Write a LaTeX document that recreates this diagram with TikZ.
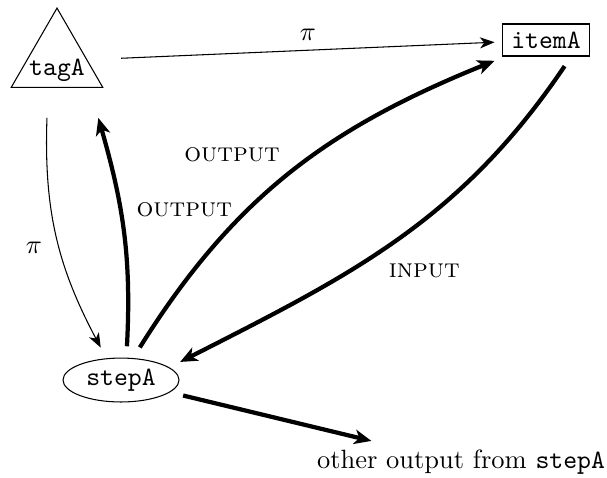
\documentclass[tikz,border=0pt]{standalone}
\usetikzlibrary{shapes.geometric,arrows.meta}
\begin{document}
\begin{tikzpicture}[x=0.378pt,y=-0.378pt,
  thinedge/.style={line width=0.4pt,-{Stealth[length=5.5pt,width=4.2pt,inset=1.6pt]}},
  thickedge/.style={line width=1.6pt,-{Stealth[length=6.5pt,width=5.5pt,inset=1.8pt]}},
  tagbox/.style={regular polygon, regular polygon sides=3, draw, minimum size=40pt, inner sep=0pt, outer sep=11.5pt},
  itembox/.style={draw, rectangle, inner xsep=3.33pt, inner ysep=2.9pt, outer sep=3pt},
  stepbox/.style={draw, ellipse, minimum width=43.85pt, minimum height=16.6pt, inner sep=0pt, outer sep=4.5pt}]
\useasboundingbox (0,0) rectangle (607,477);

\node[tagbox] (tagA) at (57,61) {\smash{\makebox[0pt]{\raisebox{-5.3pt}{\texttt{tagA}}}}};
\node[itembox] (itemA) at (546,40) {\texttt{itemA}};
\node[stepbox] (stepA) at (121,380) {\texttt{stepA}};
\node (other) at (461,462.5) {other output from \texttt{stepA}};

\draw[thinedge] (tagA) -- node[above] {$\pi$} (itemA);
\draw[thinedge] (tagA.260) to[out=268,in=118] node[pos=0.55,left=3pt] {$\pi$} (stepA.122);
\draw[thickedge] (stepA.80) to[out=87,in=-74] node[pos=0.6,right=2pt] {\textsc{output}} (tagA.-54);
\draw[thickedge] (stepA.60) to[out=58,in=202] node[pos=0.5,anchor=south east] {\textsc{output}} (itemA);
\draw[thickedge,shorten <=1pt] (itemA.-50) to[out=236,in=27] node[pos=0.55,anchor=north west] {\textsc{input}} (stepA.17);
\draw[thickedge] (stepA.-14) -- (other);
\end{tikzpicture}
\end{document}
